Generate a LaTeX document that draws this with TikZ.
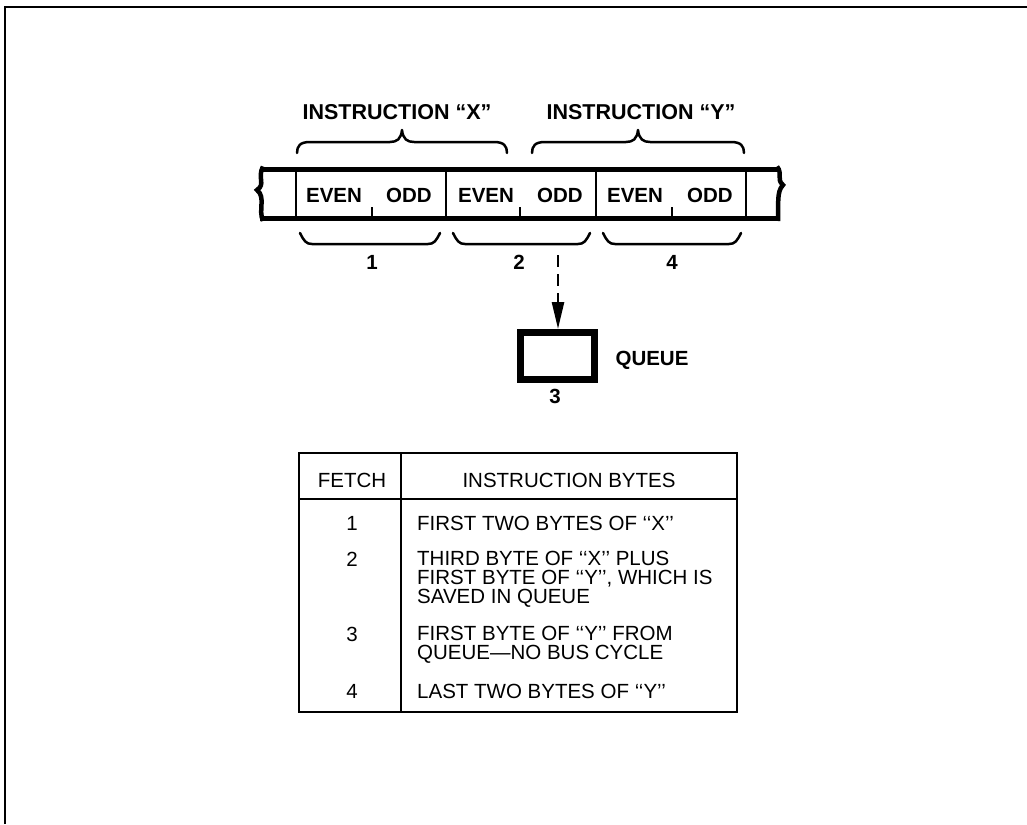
\documentclass[tikz,border=0pt]{standalone}
\usepackage{fontspec}
\setmainfont{Liberation Sans}
\usetikzlibrary{arrows.meta}
\tikzset{
  lbl/.style={font=\fontsize{20.5}{24}\selectfont\bfseries, inner sep=0pt, anchor=base},
  biglbl/.style={font=\fontsize{21.5}{24}\selectfont\bfseries, inner sep=0pt, anchor=base},
  hdr/.style={font=\fontsize{20.5}{24}\selectfont, inner sep=0pt, anchor=base},
  rowtxt/.style={font=\fontsize{20.5}{24}\selectfont, inner sep=0pt, anchor=base west},
  num/.style={font=\fontsize{20.5}{24}\selectfont, inner sep=0pt, anchor=base},
  brace/.style={line width=2.5pt, line cap=round, line join=round},
  strip/.style={line width=5pt},
  thin/.style={line width=2pt},
  queuebox/.style={draw, line width=7pt, minimum width=74pt, minimum height=47pt, inner sep=0pt},
}
\begin{document}
\begin{tikzpicture}[x=1pt,y=-1pt]
\useasboundingbox (0,0) rectangle (1027,824);
% frame
\draw[line width=2.5pt] (5,824) -- (5,7) -- (1027,7);
% strip
\draw[strip] (260,169) -- (779,169);
\draw[strip] (260,218.5) -- (779,218.5);
\draw[line width=4.5pt] (263,166.5) .. controls (257,178) and (266,184) .. (257,190) .. controls (266,197) and (258,210) .. (263,221);
\draw[line width=4.5pt] (777,166.5) .. controls (783,174) and (776,179) .. (783,185) .. controls (776,192) and (779,206) .. (778,221);
\foreach \x in {296,446,596,746} \draw[thin] (\x,169) -- (\x,218.5);
\foreach \x in {372,520,672} \draw[thin] (\x,207) -- (\x,218.5);
% cell texts
\node[lbl] (e1) at (334,202) {EVEN};
\node[lbl] (o1) at (409,202) {ODD};
\node[lbl] (e2) at (486,202) {EVEN};
\node[lbl] (o2) at (560,202) {ODD};
\node[lbl] (e3) at (635,202) {EVEN};
\node[lbl] (o3) at (710,202) {ODD};
% top braces
\draw[brace] (297,153) .. controls (297,146) and (300,142) .. (310,142) -- (390,142) .. controls (397,142) and (401,139) .. (402,130) .. controls (403,139) and (407,142) .. (414,142) -- (494,142) .. controls (504,142) and (507,146) .. (507,153);
\draw[brace] (532,153) .. controls (532,146) and (535,142) .. (545,142) -- (626,142) .. controls (633,142) and (637,139) .. (638,130) .. controls (639,139) and (643,142) .. (650,142) -- (731,142) .. controls (741,142) and (744,146) .. (744,153);
\node[biglbl] (ix) at (397,120) {INSTRUCTION “X”};
\node[biglbl] (iy) at (641,120) {INSTRUCTION “Y”};
% bottom brackets
\draw[brace] (300,233) .. controls (304,241) and (306,244) .. (312,244) -- (428,244) .. controls (434,244) and (436,241) .. (440,233);
\draw[brace] (453,233) .. controls (457,241) and (459,244) .. (465,244) -- (578,244) .. controls (584,244) and (586,241) .. (590,233);
\draw[brace] (603,233) .. controls (607,241) and (609,244) .. (615,244) -- (729,244) .. controls (735,244) and (737,241) .. (741,233);
\node[lbl] (f1) at (372,269) {1};
\node[lbl] (f2) at (519,269) {2};
\node[lbl] (f4) at (672,269) {4};
% queue
\node[queuebox] (queue) at (557.5,356) {};
\node[lbl] (ql) at (652,365) {QUEUE};
\node[lbl] (q3) at (555,403) {3};
\coordinate (dstart) at (558,255);
\draw[line width=2.5pt, dash pattern=on 12pt off 7pt, -{Triangle[length=27pt,width=12pt]}] (dstart) -- (queue.north -| dstart);
% table
\draw[thin] (299,453) rectangle (737,712);
\draw[thin] (299,499) -- (737,499);
\draw[thin] (401,453) -- (401,712);
\node[hdr] (hf) at (352,487) {FETCH};
\node[hdr] (hb) at (569,487) {INSTRUCTION BYTES};
\node[num] (n1) at (352,530) {1};
\node[num] (n2) at (352,566) {2};
\node[num] (n3) at (352,641) {3};
\node[num] (n4) at (352,698) {4};
\node[rowtxt] (r1) at (417,530) {FIRST TWO BYTES OF ‘‘X’’};
\node[rowtxt] (r2a) at (417,565) {THIRD BYTE OF ‘‘X’’ PLUS};
\node[rowtxt] (r2b) at (417,584) {FIRST BYTE OF ‘‘Y’’, WHICH IS};
\node[rowtxt] (r2c) at (417,603) {SAVED IN QUEUE};
\node[rowtxt] (r3a) at (417,640.5) {FIRST BYTE OF ‘‘Y’’ FROM};
\node[rowtxt] (r3b) at (417,659.5) {QUEUE—NO BUS CYCLE};
\node[rowtxt] (r4) at (417,698) {LAST TWO BYTES OF ‘‘Y’’};
\end{tikzpicture}
\end{document}
